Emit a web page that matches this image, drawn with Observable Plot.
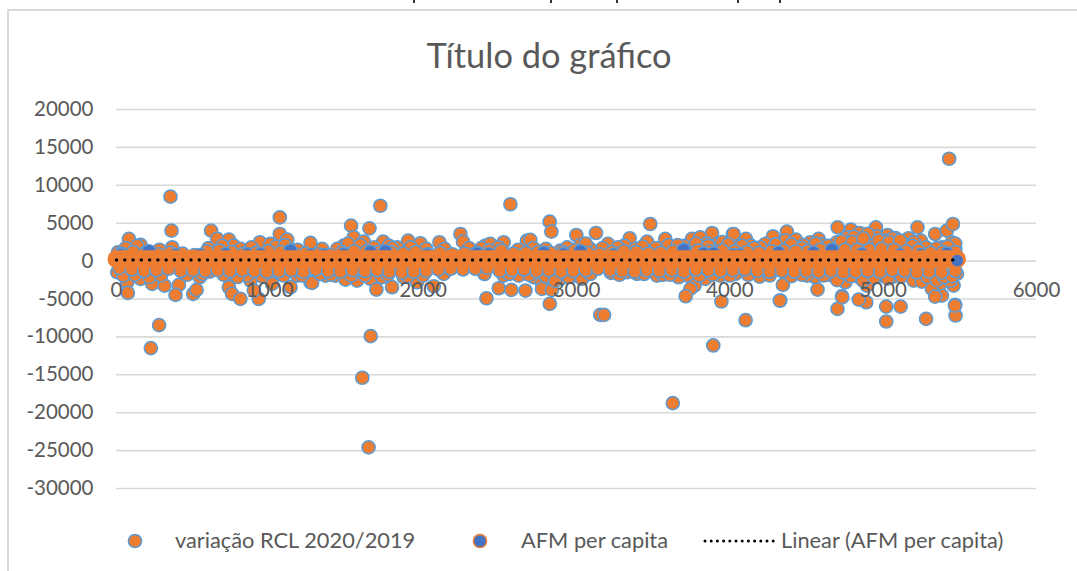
<!DOCTYPE html>
<html><head><meta charset="utf-8">
<script src="https://cdn.jsdelivr.net/npm/d3@7"></script>
<script src="https://cdn.jsdelivr.net/npm/@observablehq/plot@0.6"></script>
<style>
html,body{margin:0;padding:0;background:#fff}
#page{position:relative;width:1077px;height:571px;overflow:hidden;font-family:Lato,sans-serif;color:#595959}
#frame{position:absolute;left:7px;top:9px;width:1200px;height:700px;border:2px solid #d9d9d9;box-sizing:border-box}
#chart{position:absolute;left:0;top:0}
#title{position:absolute;left:0;width:1098px;top:34px;text-align:center;font-size:34.4px;line-height:42px}
.lg{position:absolute;top:527px;font-size:21.8px;line-height:26px;white-space:nowrap}
.mk{position:absolute;top:531px}
.cut{position:absolute;top:0;width:2px;height:3px;background:#333}
</style></head><body>
<div id="page">
<i class="cut" style="left:413px"></i><i class="cut" style="left:550px"></i><i class="cut" style="left:616px"></i><i class="cut" style="left:737px"></i><i class="cut" style="left:779px"></i>
<div id="frame"></div>
<div id="chart"></div>
<div id="title">Título do gráfico</div>
<svg class="mk" style="left:125px" width="20" height="20"><circle cx="10" cy="10" r="6.6" fill="#ed7d31" stroke="#5b9bd5" stroke-width="1.5"/></svg>
<span class="lg" style="left:175px">variação RCL 2020/2019</span>
<svg class="mk" style="left:470px" width="20" height="20"><circle cx="10" cy="10" r="6.6" fill="#4472c4" stroke="#ed7d31" stroke-width="1.5"/></svg>
<span class="lg" style="left:521px">AFM per capita</span>
<svg class="mk" style="left:703px" width="74" height="20"><line x1="2" x2="72" y1="10" y2="10" stroke="#000" stroke-width="3" stroke-linecap="round" stroke-dasharray="0 6.2"/></svg>
<span class="lg" style="left:781px">Linear (AFM per capita)</span>
</div>
<script>
const xTicks = [0,1000,2000,3000,4000,5000,6000];
const yTicks = [20000,15000,10000,5000,0,-5000,-10000,-15000,-20000,-25000,-30000];

const outliers = [[224,-11480],[278,-8450],[1603,-15390],[1644,-24570],[1658,-9900],[3628,-18730],[3892,-11130],[4103,-7800],[3155,-7090],[3180,-7090],[5020,-7970],[5280,-7620],[5472,-7180],[5468,-5860],[5114,-6000],[5020,-6000],[4702,-6300],[4890,-5420],[4841,-5070],[4733,-4770],[4326,-5200],[3945,-5330],[3712,-4630],[2826,-5640],[2413,-4900],[5430,13500],[352,8500],[1721,7300],[2569,7500]];

const upperCloud = [[359,4016],[1065,5773],[1065,3578],[617,4016],[657,2919],[81,2919],[157,2129],[733,2831],[765,2041],[1113,2831],[935,2480],[1004,2260],[1265,2392],[363,1822],[10,1163],[222,1163],[1135,1500],[1530,4675],[1650,4324],[1547,3139],[1613,2568],[1482,2041],[1739,2568],[1776,2041],[1902,2700],[1982,2348],[2106,2480],[2243,3577],[2260,2568],[2406,2041],[2438,2260],[2525,2480],[2677,2700],[1341,1602],[1830,1822],[2825,5202],[2836,3885],[3481,4895],[2699,2787],[2999,3446],[3127,3709],[3025,2129],[3205,2260],[3347,3007],[3460,2568],[3579,2919],[3312,2041],[3753,2919],[3807,3138],[3884,3709],[3920,2260],[4020,3577],[4047,2700],[2895,1382],[3090,1602],[3384,1602],[3634,1822],[4703,4455],[4025,3577],[4105,2919],[4138,2041],[4281,3270],[4372,3885],[4362,2700],[4431,2831],[4231,2260],[4579,2919],[4525,2480],[4790,4148],[4846,3709],[4883,2700],[4953,4455],[4959,3270],[5029,3446],[5079,3050],[5007,2700],[4927,2480],[5224,4455],[5166,3007],[5246,2700],[5339,3577],[5415,4016],[5455,4895],[5448,2480],[5383,1822],[5133,2260],[4764,3138],[4698,2480],[5470,1700],[5470,2300],[4810,3200],[4900,3600],[5060,3000],[5200,2500],[4600,2200],[4480,2100],[4200,1800],[3700,2000],[3850,2300],[3950,2500],[3600,2100]];

const lowerCloud = [[5,-1471],[70,-2788],[74,-4193],[157,-2349],[233,-3007],[313,-3227],[407,-3139],[385,-4456],[500,-4325],[522,-3798],[543,-2129],[609,-1383],[743,-1910],[733,-3446],[754,-4325],[808,-4983],[874,-2568],[852,-1910],[928,-4983],[896,-3885],[1026,-1910],[1015,-3007],[1135,-3446],[1178,-1910],[1265,-2788],[1276,-2876],[1363,-1910],[1428,-1910],[1493,-2437],[1569,-2568],[1656,-2349],[1695,-3754],[1732,-2129],[1797,-3446],[1873,-2129],[1960,-2788],[2069,-3315],[2134,-1691],[2493,-3579],[2575,-3798],[2667,-3885],[2525,-1910],[2623,-1910],[2721,-2129],[2775,-2876],[2775,-3666],[2840,-3798],[2895,-2349],[2982,-1910],[3036,-2349],[3225,-1559],[3329,-1471],[3394,-1691],[3525,-1910],[3564,-1822],[3666,-2129],[3727,-1910],[3770,-3227],[3742,-3666],[3840,-2349],[3938,-1910],[4036,-1691],[4194,-2042],[4346,-3139],[4329,-5203],[4557,-2129],[4572,-3754],[4503,-1910],[4651,-1822],[4731,-4632],[4753,-2788],[4894,-3227],[5068,-2042],[4992,-1910],[5198,-2568],[5252,-2700],[5318,-3666],[5383,-4544],[5339,-4676],[5459,-3227],[5470,-5773],[5481,-1691],[5426,-2129],[4850,-2200],[4700,-2500],[5380,-2900],[5440,-2600]];

const upperFringe = [[30,1000],[110,1200],[190,1100],[270,900],[350,1100],[430,1000],[510,800],[590,1300],[670,1400],[750,1200],[830,1000],[910,1100],[990,1300],[1070,1200],[1150,1000],[1230,1000],[1310,900],[1390,800],[1470,1200],[1550,1300],[1630,1300],[1710,1200],[1790,1200],[1870,1000],[1950,1200],[2030,900],[2110,1100],[2190,900],[2270,1000],[2350,1100],[2430,1400],[2510,1400],[2590,1000],[2670,1100],[2750,1200],[2830,1100],[2910,1200],[2990,1400],[3070,1100],[3150,900],[3230,1200],[3310,1300],[3390,1200],[3470,1000],[3550,1100],[3630,1300],[3710,1400],[3790,1400],[3870,1300],[3950,1400],[4030,1300],[4110,1200],[4190,1100],[4270,1300],[4350,1400],[4430,1300],[4510,1300],[4590,1500],[4670,1400],[4750,1500],[4830,1500],[4910,1500],[4990,1600],[5070,1500],[5150,1300],[5230,1400],[5310,1100],[5390,1200],[5470,1200]];

const upperMiddle = [[60,1700],[135,2000],[280,1500],[600,1700],[690,2000],[810,1600],[880,1800],[1040,1900],[1100,2100],[1180,1500],[1440,1600],[1510,2300],[1590,2100],[1680,1800],[1800,1700],[1920,1800],[2020,1600],[2140,1600],[2300,1700],[2380,1700],[2490,1800],[2620,1500],[2720,1700],[2800,1600],[2940,1800],[3060,2300],[3170,1700],[3270,1800],[3430,1900],[3520,1700],[3660,2100],[3780,2300],[3860,2000],[3990,2200],[4080,2000],[4160,1700],[4300,2200],[4400,2200],[4470,1700],[4560,2300],[4640,2000],[4730,2600],[4800,2500],[4870,3000],[4970,2700],[5040,2500],[5110,2700],[5190,2000],[5280,1800],[5350,1700],[5420,1900]];

const lowerFringe = [[20,-900],[100,-1100],[180,-1300],[260,-1200],[340,-1000],[420,-1300],[500,-1200],[580,-1300],[660,-1200],[740,-1300],[820,-1200],[900,-1300],[980,-1400],[1060,-1300],[1140,-1200],[1220,-1400],[1300,-1100],[1380,-1300],[1460,-1400],[1540,-1200],[1620,-1300],[1700,-1200],[1780,-1400],[1860,-1500],[1940,-1400],[2020,-1300],[2100,-1100],[2180,-1000],[2260,-1100],[2340,-1000],[2420,-900],[2500,-1300],[2580,-1200],[2660,-1100],[2740,-1300],[2820,-1200],[2900,-1400],[2980,-1300],[3060,-1200],[3140,-1000],[3220,-1200],[3300,-1300],[3380,-1400],[3460,-1200],[3540,-1300],[3620,-1200],[3700,-1400],[3780,-1100],[3860,-1200],[3940,-1300],[4020,-1200],[4100,-1100],[4180,-1300],[4260,-1400],[4340,-1300],[4420,-1400],[4500,-1300],[4580,-1400],[4660,-1300],[4740,-1500],[4820,-1400],[4900,-1300],[4980,-1400],[5060,-1200],[5140,-1300],[5220,-1500],[5300,-1400],[5380,-1500],[5470,-1300]];

const lowerMiddle = [[45,-1900],[120,-1800],[215,-2100],[290,-1900],[460,-1800],[560,-1700],[700,-1800],[790,-2100],[950,-2000],[1090,-1900],[1210,-1900],[1330,-1700],[1400,-1800],[1530,-1900],[1620,-1900],[1770,-1800],[1900,-2000],[2000,-1900],[2400,-1700],[2560,-1700],[2690,-1800],[2800,-2000],[2860,-2600],[2950,-2100],[3090,-1700],[3280,-1800],[3440,-1700],[3610,-1800],[3800,-1900],[3890,-1800],[4000,-1900],[4120,-1800],[4260,-1900],[4400,-2000],[4470,-1800],[4610,-1900],[4790,-2000],[4870,-2600],[4940,-2200],[5030,-2300],[5120,-2000],[5290,-2100],[5350,-2500],[5400,-2100],[5450,-2000]];

const afmBlue = [[26,800],[211,1300],[385,800],[548,800],[711,900],[852,900],[939,900],[1135,1400],[1265,800],[1352,800],[1482,900],[1656,1200],[1754,1300],[2025,800],[2352,1000],[2428,900],[2786,1100],[2916,900],[3025,1300],[3242,800],[3699,1500],[3829,1000],[3894,1000],[4025,800],[4068,800],[4318,1100],[4546,1100],[4666,1500],[4861,900],[5111,800],[5242,800],[5415,1000]];

const denseBand = [[0,260],[5481,260]];
const afmLast = [[5483,50]];
const linearAfm = [[0,160],[5458,160]];

const cloud = [...upperCloud, ...lowerCloud, ...upperMiddle, ...lowerMiddle, ...lowerFringe, ...upperFringe, ...outliers];
const plot = Plot.plot({
  width: 1077, height: 571,
  marginLeft: 116, marginRight: 41, marginTop: 109, marginBottom: 83,
  x: {domain: [0, 6000], axis: null},
  y: {domain: [-30000, 20000], axis: null},
  style: {background: "transparent", fontFamily: "Lato, sans-serif"},
  marks: [
    Plot.ruleY(yTicks, {x1: 0, x2: 6000, stroke: "#d9d9d9", strokeWidth: 1.6}),
    Plot.axisY({ticks: yTicks, tickSize: 0, tickPadding: 23, label: null, tickFormat: d => String(d), fontSize: 20.5, fill: "#595959"}),
    Plot.dot(cloud, {x: d => d[0], y: d => d[1], r: 6.6, fill: "#ed7d31", stroke: "#5b9bd5", strokeWidth: 1.5}),
    Plot.dot(afmBlue, {x: d => d[0], y: d => d[1], r: 6.6, fill: "#4472c4", stroke: "#5b9bd5", strokeWidth: 1.2}),
    Plot.line(denseBand, {x: d => d[0], y: d => d[1], stroke: "#ed7d31", strokeWidth: 18, strokeLinecap: "round"}),
    Plot.dot(afmLast, {x: d => d[0], y: d => d[1], r: 6.6, fill: "#4472c4", stroke: "#ed7d31", strokeWidth: 1.5}),
    Plot.line(linearAfm, {x: d => d[0], y: d => d[1], stroke: "#000", strokeWidth: 3.4, strokeLinecap: "round", strokeDasharray: "0 8.28"}),
    Plot.text(xTicks, {x: d => d, y: 0, dy: 29.5, text: d => String(d), fontSize: 20.5, fill: "#595959", textAnchor: "middle"})
  ]
});
document.getElementById("chart").appendChild(plot);
</script>
</body></html>
